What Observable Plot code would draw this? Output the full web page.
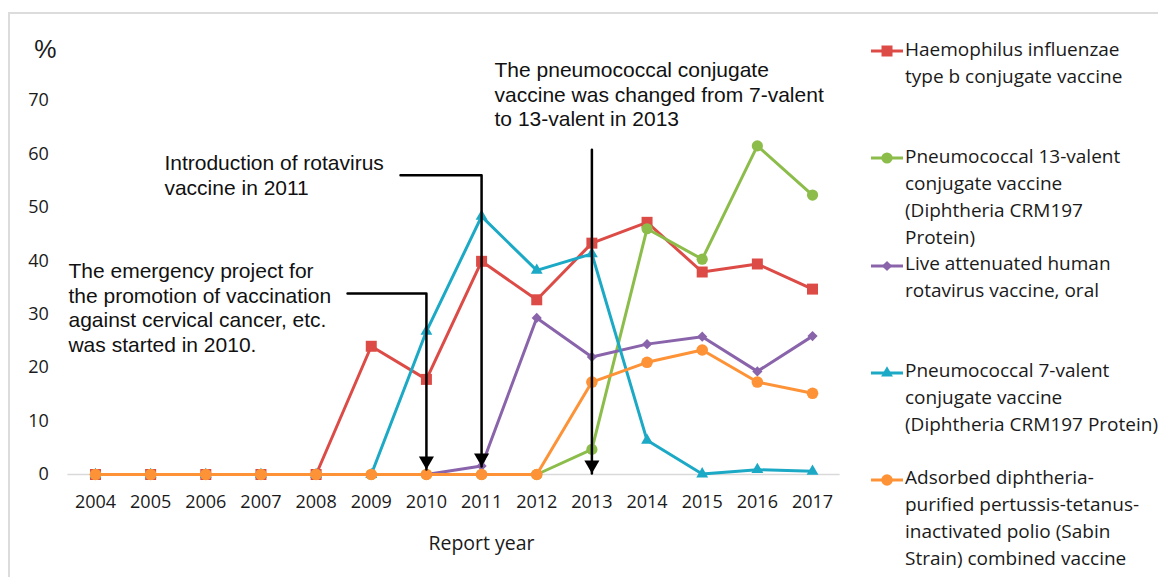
<!DOCTYPE html>
<html>
<head>
<meta charset="utf-8">
<script src="https://cdn.jsdelivr.net/npm/d3@7"></script>
<script src="https://cdn.jsdelivr.net/npm/@observablehq/plot@0.6"></script>
<style>
  html, body { margin: 0; padding: 0; background: #fff; }
  #chart { position: relative; width: 1158px; height: 577px; overflow: hidden; background: #fff; }
  #frame { position: absolute; left: 8px; top: 12px; width: 1300px; height: 700px;
           border-left: 2px solid #dcdcdc; border-top: 2px solid #dcdcdc; }
  #plot { position: absolute; left: 0; top: 0; }
  .item { position: absolute; left: 870px; white-space: nowrap; font-family: "Open Sans", sans-serif;
          font-size: 19px; line-height: 27px; color: #1a1a1a; }
  .item svg { position: absolute; left: 0; top: 8.7px; overflow: visible; }
  .item .label { position: absolute; left: 35px; top: 0; }
</style>
</head>
<body>
<div id="chart">
  <div id="frame"></div>
  <div id="plot"></div>
  <div id="legend"></div>
</div>
<script>
// Report years on the x axis
const years = [2004, 2005, 2006, 2007, 2008, 2009, 2010, 2011, 2012, 2013, 2014, 2015, 2016, 2017];
const yTicks = [0, 10, 20, 30, 40, 50, 60, 70];

// Percentage per report year, one array per vaccine
const hib   = [0, 0, 0, 0, 0, 24.0, 17.8, 39.9, 32.7, 43.3, 47.2, 37.9, 39.4, 34.7];
const pcv13 = [0, 0, 0, 0, 0, 0, 0, 0, 0, 4.7, 46.0, 40.3, 61.5, 52.3];
const rota  = [0, 0, 0, 0, 0, 0, 0, 1.6, 29.3, 22.0, 24.4, 25.8, 19.3, 25.9];
const pcv7  = [0, 0, 0, 0, 0, 0, 26.8, 48.3, 38.2, 41.3, 6.4, 0.1, 0.9, 0.6];
const dpt   = [0, 0, 0, 0, 0, 0, 0, 0, 0, 17.3, 21.0, 23.3, 17.3, 15.2];

// Legend labels (with their line breaks)
const seriesLabels = [
  ["Haemophilus influenzae", "type b conjugate vaccine"],
  ["Pneumococcal 13-valent", "conjugate vaccine", "(Diphtheria CRM197", "Protein)"],
  ["Live attenuated human", "rotavirus vaccine, oral"],
  ["Pneumococcal 7-valent", "conjugate vaccine", "(Diphtheria CRM197 Protein)"],
  ["Adsorbed diphtheria-", "purified pertussis-tetanus-", "inactivated polio (Sabin", "Strain) combined vaccine"]
];
const seriesValues = [hib, pcv13, rota, pcv7, dpt];

// Series styling
const seriesColors  = ["#dc4b46", "#8cbd4a", "#8a64ab", "#1ba9c6", "#fd9236"];
const seriesSymbols = ["square", "circle", "diamond2", "triangle", "circle"];
const seriesRadius  = [6.2, 5.6, 4.6, 4.4, 5.8];

// Annotation texts and their arrows (in year / percent units)
const noteTexts = [
  "The emergency project for\nthe promotion of vaccination\nagainst cervical cancer, etc.\nwas started in 2010.",
  "Introduction of rotavirus\nvaccine in 2011",
  "The pneumococcal conjugate\nvaccine was changed from 7-valent\nto 13-valent in 2013"
];
const noteX = [2003.51, 2005.25, 2011.235];
const noteY = [40.0, 60.2, 77.6];
const arrowPaths = [
  [[2008.57, 33.9], [2010, 33.9], [2010, 0.94]],
  [[2009.53, 56.0], [2011, 56.0], [2011, 1.5]],
  [[2013, 60.8], [2013, 0.19]]
];

const rows = seriesValues.map((vals, i) => years.map((yr, j) => ({year: yr, value: vals[j], s: i})));
const notes = noteTexts.map((t, i) => ({text: t, x: noteX[i], y: noteY[i]}));
const arrowTips = arrowPaths.map(p => ({x: p[p.length - 1][0], y: p[p.length - 1][1]}));

const seriesMarks = rows.flatMap((data, i) => [
  Plot.line(data, {x: "year", y: "value", stroke: seriesColors[i], strokeWidth: 3}),
  Plot.dot(data, {x: "year", y: "value", symbol: seriesSymbols[i], r: seriesRadius[i],
                  fill: seriesColors[i], stroke: "none"})
]);

const chart = Plot.plot({
  width: 850,
  height: 577,
  marginLeft: 67.4,
  marginRight: 10.4,
  marginTop: 100,
  marginBottom: 103,
  x: {type: "linear", domain: [2003.5, 2017.5]},
  y: {domain: [0, 70]},
  style: {fontFamily: "'Open Sans', sans-serif", fontSize: "18px", color: "#1a1a1a", background: "transparent", overflow: "visible"},
  marks: [
    Plot.ruleY([0], {stroke: "#d9d9d9", strokeWidth: 1.5}),
    Plot.axisY({ticks: yTicks, tickSize: 0, tickPadding: 19, label: null, fontSize: 18}),
    Plot.axisX({ticks: years, tickFormat: d => String(d), tickSize: 0, tickPadding: 21, label: null, fontSize: 18}),
    Plot.text(["%"], {frameAnchor: "top-left", dx: -22.5, dy: -51, lineAnchor: "middle", textAnchor: "middle",
                      fontFamily: "'Liberation Sans', Arial, sans-serif", fontSize: 25}),
    Plot.text(["Report year"], {frameAnchor: "bottom", dx: 27.5, dy: 69, lineAnchor: "middle", fontSize: 19.5}),
    ...seriesMarks,
    ...arrowPaths.map(p => Plot.line(p, {x: d => d[0], y: d => d[1], stroke: "#000", strokeWidth: 2.5})),
    Plot.dot(arrowTips, {x: "x", y: "y", symbol: "triangle", r: 5.6, rotate: 180, fill: "#000", dy: -8.7}),
    Plot.text(notes, {x: "x", y: "y", text: "text", textAnchor: "start", lineAnchor: "top", lineHeight: 1.167,
                      fontFamily: "'Liberation Sans', Arial, sans-serif", fontSize: 21, fill: "#111"})
  ]
});
document.getElementById("plot").appendChild(chart);

// Legend on the right: a line-and-marker swatch beside each wrapped label
const legend = document.getElementById("legend");
seriesLabels.forEach((lines, i) => {
  const item = document.createElement("div");
  item.className = "item";
  item.style.top = (35.5 + i * 107.2) + "px";
  const svg = d3.create("svg").attr("width", 34).attr("height", 14);
  svg.append("line").attr("x1", 1).attr("x2", 33).attr("y1", 7).attr("y2", 7)
    .attr("stroke", seriesColors[i]).attr("stroke-width", 3);
  const symType = {square: d3.symbolSquare, circle: d3.symbolCircle, diamond2: d3.symbolDiamond2, triangle: d3.symbolTriangle}[seriesSymbols[i]];
  svg.append("path").attr("transform", "translate(17,7)")
    .attr("d", d3.symbol(symType, Math.PI * seriesRadius[i] * seriesRadius[i])())
    .attr("fill", seriesColors[i]);
  item.appendChild(svg.node());
  const label = document.createElement("div");
  label.className = "label";
  label.innerHTML = lines.join("<br>");
  item.appendChild(label);
  legend.appendChild(item);
});
</script>
</body>
</html>
